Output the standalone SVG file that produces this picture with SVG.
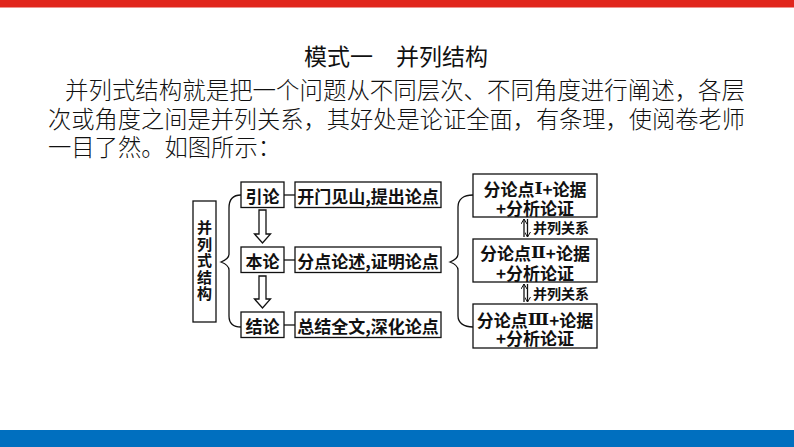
<svg xmlns="http://www.w3.org/2000/svg" width="794" height="447" viewBox="0 0 794 447">
<style>
.body{font-family:"Noto Sans CJK SC","Liberation Sans",sans-serif;font-size:23.3px;fill:#111;font-weight:300}
.title{font-family:"Noto Sans CJK SC","Liberation Sans",sans-serif;font-size:23px;fill:#111}
.box{fill:#fff;stroke:#111;stroke-width:1.3}
.ln{fill:none;stroke:#111;stroke-width:1.3}
.t{font-family:"Noto Sans CJK SC","Liberation Sans",sans-serif;font-size:17px;fill:#111;font-weight:bold;text-anchor:middle;dominant-baseline:central}
.v{font-family:"Noto Sans CJK SC","Liberation Sans",sans-serif;font-size:15px;fill:#111;font-weight:bold;writing-mode:vertical-rl;letter-spacing:1.5px}
.rn{font-family:"DejaVu Serif","Liberation Serif",serif;font-size:17.5px}
.lab{font-family:"Noto Sans CJK SC","Liberation Sans",sans-serif;font-size:14px;fill:#111;font-weight:bold;dominant-baseline:central}
</style>
<defs>
<marker id="ah" markerWidth="6" markerHeight="6" refX="5" refY="3" orient="auto" markerUnits="userSpaceOnUse">
<path d="M0,0 L5,3 L0,6" fill="none" stroke="#111" stroke-width="1"/>
</marker>
</defs>
<rect x="0" y="0" width="794" height="7.5" fill="#E1261C"/>
<rect x="0" y="430" width="794" height="17" fill="#006FBF"/>

<text class="title" x="396" y="65" text-anchor="middle">模式一　并列结构</text>
<text class="body" x="65" y="99" textLength="680" lengthAdjust="spacingAndGlyphs">并列式结构就是把一个问题从不同层次、不同角度进行阐述，各层</text>
<text class="body" x="48" y="128" textLength="697" lengthAdjust="spacingAndGlyphs">次或角度之间是并列关系，其好处是论证全面，有条理，使阅卷老师</text>
<text class="body" x="48" y="156" textLength="233" lengthAdjust="spacingAndGlyphs">一目了然。如图所示：</text>

<g id="connectors">
<path class="ln" d="M241,195 C232,195 229,200 229,208 L229,254 C229,258 226,260 221,262 C226,264 229,266 229,270 L229,316 C229,323 232,327 241,327"/>
<path class="ln" d="M473,195 C464,195 458,199 458,207 L458,254 C458,258 455,260 450,262 C455,264 458,266 458,270 L458,316 C458,323 464,327 473,327"/>
<line class="ln" x1="284" y1="195" x2="295" y2="195"/>
<line class="ln" x1="284" y1="260" x2="295" y2="260"/>
<line class="ln" x1="284" y1="325" x2="295" y2="325"/>
<path class="ln" d="M259,210 L266,210 L266,234 L270.5,234 L262.5,243 L254.5,234 L259,234 Z"/>
<path class="ln" d="M259,276 L266,276 L266,299 L270.5,299 L262.5,308 L254.5,299 L259,299 Z"/>
<line class="ln" x1="524" y1="237" x2="524" y2="219" marker-end="url(#ah)"/>
<line class="ln" x1="527.5" y1="219" x2="527.5" y2="237" marker-end="url(#ah)"/>
<line class="ln" x1="524" y1="302" x2="524" y2="284" marker-end="url(#ah)"/>
<line class="ln" x1="527.5" y1="284" x2="527.5" y2="302" marker-end="url(#ah)"/>
<text class="lab" x="533" y="227">并列关系</text>
<text class="lab" x="533" y="293">并列关系</text>
</g>

<g id="root">
<rect class="box" x="193" y="201" width="23" height="121"/>
<text class="v" x="204.5" y="220">并列式结构</text>
</g>
<g id="yinlun"><rect class="box" x="241" y="182" width="43" height="25.5"/><text class="t" x="262.5" y="195">引论</text></g>
<g id="benlun"><rect class="box" x="241" y="247" width="43" height="25.5"/><text class="t" x="262.5" y="260">本论</text></g>
<g id="jielun"><rect class="box" x="241" y="312" width="43" height="25.5"/><text class="t" x="262.5" y="325">结论</text></g>
<g id="kaimen"><rect class="box" x="295" y="182" width="146" height="25.5"/><text class="t" x="368" y="195">开门见山,提出论点</text></g>
<g id="fendian"><rect class="box" x="295" y="247" width="146" height="25.5"/><text class="t" x="368" y="260">分点论述,证明论点</text></g>
<g id="zongjie"><rect class="box" x="295" y="312" width="146" height="25.5"/><text class="t" x="368" y="325">总结全文,深化论点</text></g>
<g id="p1"><rect class="box" x="473" y="174" width="124" height="43"/><text class="t"><tspan x="535" y="187.5">分论点<tspan class="rn">Ⅰ</tspan>+论据</tspan><tspan x="535" y="206.5">+分析论证</tspan></text></g>
<g id="p2"><rect class="box" x="473" y="239" width="124" height="43"/><text class="t"><tspan x="535" y="252">分论点<tspan class="rn">Ⅱ</tspan>+论据</tspan><tspan x="535" y="271.5">+分析论证</tspan></text></g>
<g id="p3"><rect class="box" x="473" y="304" width="124" height="44"/><text class="t"><tspan x="535" y="318.5">分论点<tspan class="rn">Ⅲ</tspan>+论据</tspan><tspan x="535" y="337">+分析论证</tspan></text></g>
</svg>
